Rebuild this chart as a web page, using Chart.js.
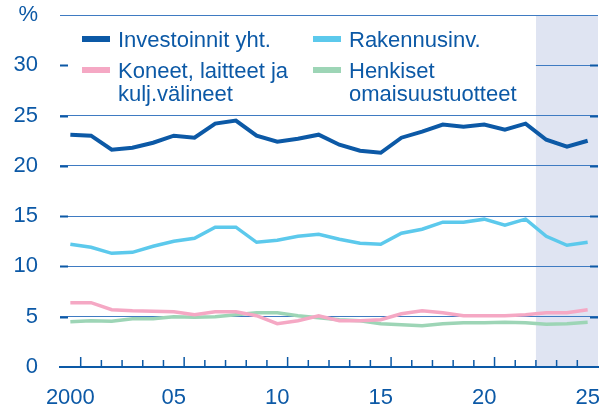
<!DOCTYPE html>
<html>
<head>
<meta charset="utf-8">
<script src="https://cdn.jsdelivr.net/npm/chart.js@4"></script>
<style>
  html, body { margin: 0; padding: 0; background: #ffffff; }
  canvas { display: block; }
</style>
</head>
<body>
<canvas id="kuvio" width="610" height="406"></canvas>
<script>
// vuodet ja sarjat, % BKT:sta
const vuodet = [2000, 2001, 2002, 2003, 2004, 2005, 2006, 2007, 2008, 2009, 2010, 2011, 2012,
                2013, 2014, 2015, 2016, 2017, 2018, 2019, 2020, 2021, 2022, 2023, 2024, 2025];
const ennusteAlku = 2023;

const investoinnit = [23.1, 23.0, 21.6, 21.8, 22.3, 23.0, 22.8, 24.2, 24.5, 23.0, 22.4, 22.7, 23.1,
                      22.1, 21.5, 21.3, 22.8, 23.4, 24.1, 23.9, 24.1, 23.6, 24.2, 22.6, 21.9, 22.5];
const rakennus = [12.2, 11.9, 11.3, 11.4, 12.0, 12.5, 12.8, 13.9, 13.9, 12.4, 12.6, 13.0, 13.2,
                  12.7, 12.3, 12.2, 13.3, 13.7, 14.4, 14.4, 14.7, 14.1, 14.7, 13.0, 12.1, 12.4];
const koneet = [6.4, 6.4, 5.7, 5.6, 5.55, 5.5, 5.2, 5.5, 5.5, 5.1, 4.3, 4.6, 5.1,
                4.6, 4.6, 4.7, 5.3, 5.6, 5.4, 5.1, 5.1, 5.1, 5.2, 5.4, 5.4, 5.7];
const henkiset = [4.5, 4.6, 4.55, 4.8, 4.8, 5.0, 4.95, 5.0, 5.2, 5.4, 5.4, 5.1, 4.9,
                  4.7, 4.6, 4.3, 4.2, 4.1, 4.3, 4.4, 4.4, 4.45, 4.4, 4.25, 4.3, 4.45];

const nimet = ['Investoinnit yht.', 'Rakennusinv.', 'Koneet, laitteet ja\nkulj.välineet', 'Henkiset\nomaisuustuotteet'];
const yTikit = [0, 5, 10, 15, 20, 25, 30, 35];

const sininen = '#0c59a6';
const fontti = '"Liberation Sans", Arial, sans-serif';

const koristeet = {
    id: 'koristeet',
    beforeDraw(chart) {
        const { ctx, chartArea } = chart;
        const x = chart.scales.x;
        const puoli = (x.getPixelForValue(1) - x.getPixelForValue(0)) / 2;
        const alku = x.getPixelForValue(vuodet.indexOf(ennusteAlku)) - puoli;
        ctx.save();
        ctx.fillStyle = '#dfe4f2';
        ctx.fillRect(alku, chartArea.top, chartArea.right - alku, chartArea.bottom - chartArea.top);
        ctx.restore();
    },
    beforeDatasetsDraw(chart) {
        const { ctx, chartArea } = chart;
        const x = chart.scales.x;
        const y = chart.scales.y;
        const puoli = (x.getPixelForValue(1) - x.getPixelForValue(0)) / 2;
        const alku = x.getPixelForValue(vuodet.indexOf(ennusteAlku)) - puoli;
        ctx.save();

        // selitteen valkoinen tausta
        ctx.fillStyle = '#ffffff';
        ctx.fillRect(chartArea.left + 8, chartArea.top + 2, alku - chartArea.left - 8, 89);

        // y-akselin sisäpuoliset tikit
        ctx.strokeStyle = sininen;
        ctx.lineWidth = 2;
        yTikit.forEach(v => {
            if (v === 0 || v === 35) return;
            const py = Math.round(y.getPixelForValue(v)) + 0.5;
            ctx.beginPath();
            ctx.moveTo(chartArea.left, py);
            ctx.lineTo(chartArea.left + 8, py);
            ctx.moveTo(chartArea.right - 8, py);
            ctx.lineTo(chartArea.right, py);
            ctx.stroke();
        });

        // x-akselin tikit vuosien rajoilla
        ctx.lineWidth = 1.5;
        for (let i = 0; i < vuodet.length - 1; i++) {
            const px = x.getPixelForValue(i) + puoli;
            const pituus = vuodet[i] % 5 === 0 ? 10 : 7;
            ctx.beginPath();
            ctx.moveTo(px, chartArea.bottom);
            ctx.lineTo(px, chartArea.bottom - pituus);
            ctx.stroke();
        }

        // selite
        const sarakkeet = [82, 313];
        const rivit = [39, 70];
        ctx.font = '22px ' + fontti;
        ctx.textBaseline = 'alphabetic';
        chart.data.datasets.forEach((ds, i) => {
            const sx = sarakkeet[i % 2];
            const sy = rivit[Math.floor(i / 2)];
            ctx.fillStyle = ds.borderColor;
            ctx.fillRect(sx, sy - 3, 28, 6);
            ctx.fillStyle = sininen;
            ds.label.split('\n').forEach((rivi, j) => {
                ctx.fillText(rivi, sx + 36, sy + 8 + j * 22.5);
            });
        });
        ctx.restore();
    }
};

const ctx = document.getElementById('kuvio').getContext('2d');
new Chart(ctx, {
    type: 'line',
    data: {
        labels: vuodet,
        datasets: [
            { label: nimet[0], data: investoinnit, borderColor: '#0c59a6', borderWidth: 4 },
            { label: nimet[1], data: rakennus, borderColor: '#5cc9ec', borderWidth: 3.5 },
            { label: nimet[2], data: koneet, borderColor: '#f5a8c4', borderWidth: 3.5 },
            { label: nimet[3], data: henkiset, borderColor: '#9dd5b6', borderWidth: 3.5 }
        ]
    },
    options: {
        responsive: false,
        animation: false,
        devicePixelRatio: 1,
        layout: { padding: { top: 15, right: 12, left: 0, bottom: 0 } },
        elements: {
            point: { radius: 0 },
            line: { tension: 0, fill: false, borderCapStyle: 'butt' }
        },
        plugins: {
            legend: { display: false },
            tooltip: { enabled: false }
        },
        scales: {
            x: {
                offset: true,
                grid: { display: false, drawTicks: false },
                border: { display: true, color: sininen, width: 2 },
                ticks: {
                    autoSkip: false,
                    maxRotation: 0,
                    padding: 18,
                    color: sininen,
                    font: { family: fontti, size: 22 },
                    callback: (v, i) => {
                        const vuosi = vuodet[i];
                        if (vuosi % 5 !== 0) return '';
                        return vuosi === 2000 ? '2000' : String(vuosi).slice(2);
                    }
                },
                afterFit: s => { s.height = 39; s.paddingLeft = 0; s.paddingRight = 0; }
            },
            y: {
                min: 0,
                max: 35,
                grid: { color: '#3f7bc2', lineWidth: 1, drawTicks: false },
                border: { display: false },
                ticks: {
                    stepSize: 5,
                    padding: 22,
                    color: sininen,
                    font: { family: fontti, size: 22 },
                    callback: v => v === 35 ? '%' : v
                },
                afterFit: s => { s.width = 60; s.paddingTop = 0; s.paddingBottom = 0; }
            }
        }
    },
    plugins: [koristeet]
});
</script>
</body>
</html>
